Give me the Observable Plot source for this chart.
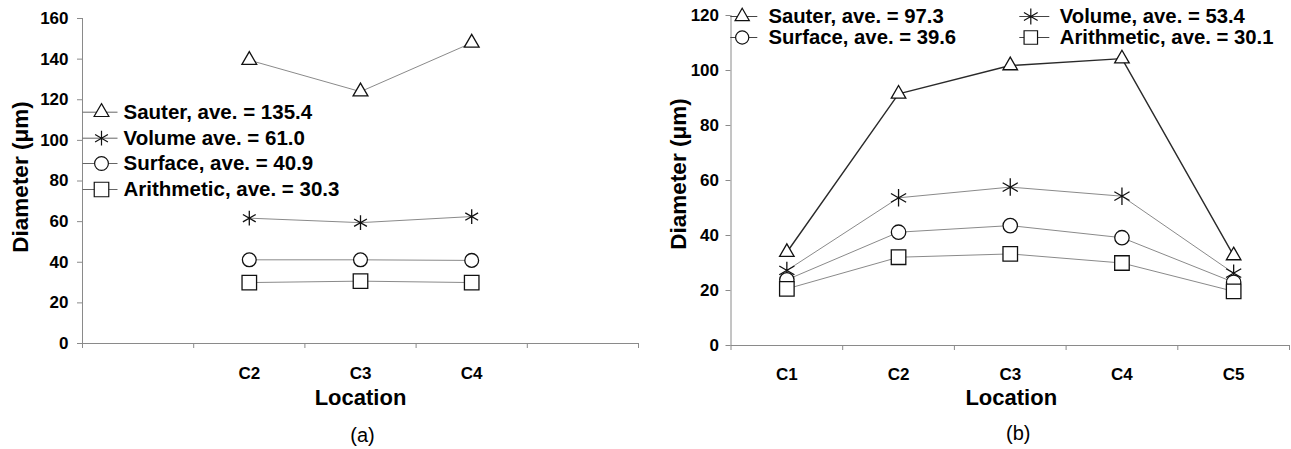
<!DOCTYPE html>
<html><head><meta charset="utf-8">
<script src="https://cdn.jsdelivr.net/npm/d3@7"></script>
<script src="https://cdn.jsdelivr.net/npm/@observablehq/plot@0.6"></script>
<style>
body{margin:0;background:#fff;}
#wrap{position:relative;width:1291px;height:449px;overflow:hidden;}
#a{position:absolute;left:0;top:0;}
#b{position:absolute;left:640px;top:0;}
</style></head><body>
<div id="wrap"><div id="a"></div><div id="b"></div></div>
<script>
// ---- data ----
const locations = ["C1", "C2", "C3", "C4", "C5"];
const seriesNames = ["Sauter", "Volume", "Surface", "Arithmetic"];
const seriesSymbols = ["triangle", "asterisk", "circle", "square"];
const yTicksA = [0, 20, 40, 60, 80, 100, 120, 140, 160];
const yTicksB = [0, 20, 40, 60, 80, 100, 120];

// panel (a)
const sauterA = [null, 139.5, 124, 148, null];
const volumeA = [null, 61.7, 59.5, 62.5, null];
const surfaceA = [null, 41.2, 41.2, 40.9, null];
const arithmeticA = [null, 30, 30.7, 30, null];
const legendA = ["Sauter, ave. = 135.4", "Volume ave. = 61.0", "Surface, ave. = 40.9", "Arithmetic, ave. = 30.3"];

// panel (b)
const sauterB = [33.9, 91.5, 101.8, 104.3, 32.7];
const volumeB = [27.3, 53.7, 57.6, 54.3, 26.3];
const surfaceB = [23.9, 41.2, 43.6, 39.2, 23];
const arithmeticB = [20.6, 32.1, 33.3, 30, 19.7];
const legendB = ["Sauter, ave. = 97.3", "Volume, ave. = 53.4", "Surface, ave. = 39.6", "Arithmetic, ave. = 30.1"];

// ---- helpers ----
function rows(vals) {
  return seriesNames.flatMap((s, k) => vals[k].map((v, i) => ({series: s, k, i, v})).filter(d => d.v != null));
}
function hLine(half) {
  return {draw(ctx) { ctx.moveTo(-half, 0); ctx.lineTo(half, 0); }};
}
const idx = locations.map((d, i) => i);
const bounds = [-0.5, 0.5, 1.5, 2.5, 3.5, 4.5];
const fam = "'Liberation Sans', Arial, sans-serif";

function panel(cfg) {
  const data = rows(cfg.values);
  const has = new Set(data.map(d => d.i));
  const marks = [
    Plot.ruleY([0], {stroke: "#8a8a8a"}),
    Plot.ruleX([-0.5], {stroke: "#8a8a8a"}),
    Plot.axisY({ticks: cfg.yTicks, tickSize: 5, tickPadding: cfg.yPad, stroke: "#8a8a8a", fill: "black",
      fontSize: 17, fontFamily: fam, fontWeight: "bold", label: null}),
    Plot.axisX({ticks: bounds, tickSize: 5, tickFormat: () => "", stroke: "#8a8a8a", label: null}),
    Plot.axisX({ticks: idx, tickSize: 0, tickPadding: cfg.xPad, tickFormat: i => has.has(i) ? locations[i] : "",
      fill: "black", fontSize: 17, fontFamily: fam, fontWeight: "bold", label: null}),
    Plot.text(["Diameter (\u03bcm)"], {frameAnchor: "left", rotate: -90, dx: cfg.ylabDx, dy: cfg.ylabDy,
      textAnchor: "middle", lineAnchor: "middle",
      fontSize: 22.5, fontWeight: "bold", fontFamily: fam, fill: "black"}),
    Plot.text(["Location"], {frameAnchor: "bottom", dy: cfg.xlabDy, dx: cfg.xlabDx, textAnchor: "middle", lineAnchor: "middle",
      fontSize: 22, fontWeight: "bold", fontFamily: fam, fill: "black"}),
    Plot.text([cfg.caption], {frameAnchor: "bottom", dy: cfg.capDy, dx: cfg.capDx, textAnchor: "middle", lineAnchor: "middle",
      fontSize: 20, fontFamily: fam, fill: "black"})
  ];
  seriesNames.forEach((s, k) => {
    const sd = data.filter(d => d.k === k);
    marks.push(Plot.line(sd, {x: "i", y: "v", stroke: cfg.lineColors[k], strokeWidth: cfg.lineWidths[k]}));
  });
  seriesNames.forEach((s, k) => {
    const sd = data.filter(d => d.k === k);
    marks.push(Plot.dot(sd, {x: "i", y: "v", symbol: seriesSymbols[k], r: cfg.r[k], stroke: "#111",
      strokeWidth: 1.3, fill: seriesSymbols[k] === "asterisk" ? "none" : "white"}));
  });
  // legend
  cfg.legend.forEach((t, k) => {
    const p = cfg.legPos[k];
    marks.push(Plot.dot([0], {frameAnchor: "top-left", dx: p.lx, dy: p.y, symbol: hLine(p.half), r: 1,
      stroke: cfg.legLine, strokeWidth: 1}));
    marks.push(Plot.dot([0], {frameAnchor: "top-left", dx: p.sx, dy: p.y, symbol: seriesSymbols[k], r: cfg.legR[k],
      stroke: "#111", strokeWidth: 1.2, fill: seriesSymbols[k] === "asterisk" ? "none" : "white"}));
    marks.push(Plot.text([t], {frameAnchor: "top-left", dx: p.tx, dy: p.y, textAnchor: "start", lineAnchor: "middle",
      fontSize: cfg.legFont, fontWeight: "bold", fontFamily: fam, fill: "black"}));
  });
  return Plot.plot({
    width: cfg.width, height: 449,
    marginLeft: cfg.ml, marginRight: cfg.mr, marginTop: cfg.mt, marginBottom: cfg.mb,
    x: {domain: [-0.5, 4.5]},
    y: {domain: [0, cfg.yMax]},
    style: {fontFamily: fam, background: "white", color: "black", overflow: "visible"},
    marks
  });
}

document.getElementById("a").appendChild(panel({
  values: [sauterA, volumeA, surfaceA, arithmeticA], legend: legendA, caption: "(a)",
  width: 640, ml: 82, mr: 2, mt: 18, mb: 106, yMax: 160, yTicks: yTicksA,
  yPad: 9, xPad: 23, legFont: 20.5,
  ylabDx: -62, ylabDy: -4, xlabDy: 54, xlabDx: 0, capDy: 92, capDx: 2,
  lineColors: ["#8a8a8a", "#8a8a8a", "#8a8a8a", "#8a8a8a"], lineWidths: [1, 1, 1, 1], legLine: "#666",
  r: [5.5, 7, 6.9, 8.2], legR: [5.5, 7, 6.9, 8.2],
  legPos: [
    {y: 93.7, lx: 17.5, half: 17.5, sx: 19, tx: 41},
    {y: 119.7, lx: 17.5, half: 17.5, sx: 19, tx: 41},
    {y: 145, lx: 17.5, half: 17.5, sx: 19, tx: 41},
    {y: 171, lx: 17.5, half: 17.5, sx: 19, tx: 41}
  ]
}));

document.getElementById("b").appendChild(panel({
  values: [sauterB, volumeB, surfaceB, arithmeticB], legend: legendB, caption: "(b)",
  width: 651, ml: 90.5, mr: 2, mt: 15, mb: 104, yMax: 120, yTicks: yTicksB,
  yPad: 7, xPad: 22, legFont: 20.3,
  ylabDx: -52.5, ylabDy: -6.5, xlabDy: 52, xlabDx: 1, capDy: 88, capDx: 8,
  lineColors: ["#2a2a2a", "#8a8a8a", "#8a8a8a", "#8a8a8a"], lineWidths: [1.4, 1, 1, 1], legLine: "#444",
  r: [5.4, 8.3, 7.2, 8.2], legR: [5.3, 7.5, 6.6, 7.6],
  legPos: [
    {y: 1, lx: 12.8, half: 13.5, sx: 11.2, tx: 37.4},
    {y: 1, lx: 303.3, half: 15, sx: 299.8, tx: 328.8},
    {y: 22, lx: 12.8, half: 13.5, sx: 11.2, tx: 37.4},
    {y: 22, lx: 303.3, half: 15, sx: 299.8, tx: 328.8}
  ]
}));
</script>
</body></html>
